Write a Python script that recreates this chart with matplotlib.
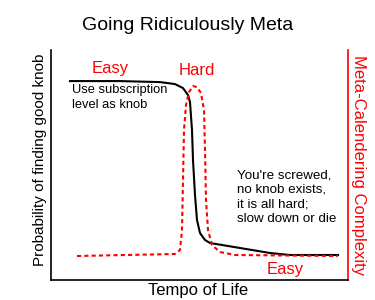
import matplotlib
matplotlib.use("Agg")
import matplotlib.pyplot as plt

plt.rcParams['font.family'] = ['Liberation Sans', 'DejaVu Sans']

# black curve: probability of finding a good knob
knob_x = [19, 69, 109, 124, 132, 137, 139, 141, 142, 144, 146, 149, 154, 159, 189, 219, 239, 287]
knob_y = [199, 199, 198, 196, 192, 185, 178, 150, 120, 85, 60, 47, 40, 37, 32, 27, 25, 25]

# red dashed curve: meta-calendering complexity
cplx_x = [26, 124, 129, 131, 132, 133, 135, 138, 142, 146, 150, 153, 154, 155, 157, 161, 169, 184, 287]
cplx_y = [24, 26, 30, 50, 100, 150, 175, 188, 194, 193, 187, 170, 130, 80, 50, 35, 28, 25, 24]

fig = plt.figure(figsize=(3.75, 3.0), dpi=100)
ax = fig.add_axes([0.136, 0.0667, 0.792, 0.7663])
ax.plot(knob_x, knob_y, color='black', lw=1.5)
ax.plot(cplx_x, cplx_y, color='red', lw=1.5, ls=(0, (2, 1.5)))
ax.set_xlim(0, 297)
ax.set_ylim(0, 230)
ax.set_xticks([])
ax.set_yticks([])
ax.spines['top'].set_visible(False)
ax.spines['right'].set_color('red')
for s in ['left', 'bottom', 'right']:
    ax.spines[s].set_linewidth(1.2)

fig.text(0.528, 0.033, 'Tempo of Life', fontsize=12, ha='center', va='center')
fig.text(0.107, 0.467, 'Probability of finding good knob', fontsize=11,
         rotation=90, ha='center', va='center')
fig.text(0.955, 0.45, 'Meta-Calendering Complexity', fontsize=12, color='red',
         rotation=270, ha='center', va='center')

fig.text(0.5, 0.915, 'Going Ridiculously Meta', ha='center', va='center', fontsize=14)

ax.text(59, 212, 'Easy', color='red', fontsize=12, ha='center', va='center')
ax.text(146, 210, 'Hard', color='red', fontsize=12, ha='center', va='center')
ax.text(234, 10, 'Easy', color='red', fontsize=12, ha='center', va='center')
ax.text(21, 196, 'Use subscription\nlevel as knob', fontsize=9.3, ha='left', va='top', linespacing=1.3)
ax.text(186, 111, "You're screwed,\nno knob exists,\nit is all hard;\nslow down or die",
        fontsize=9.6, ha='left', va='top', linespacing=1.3)

fig.savefig('out.png', dpi=100)
